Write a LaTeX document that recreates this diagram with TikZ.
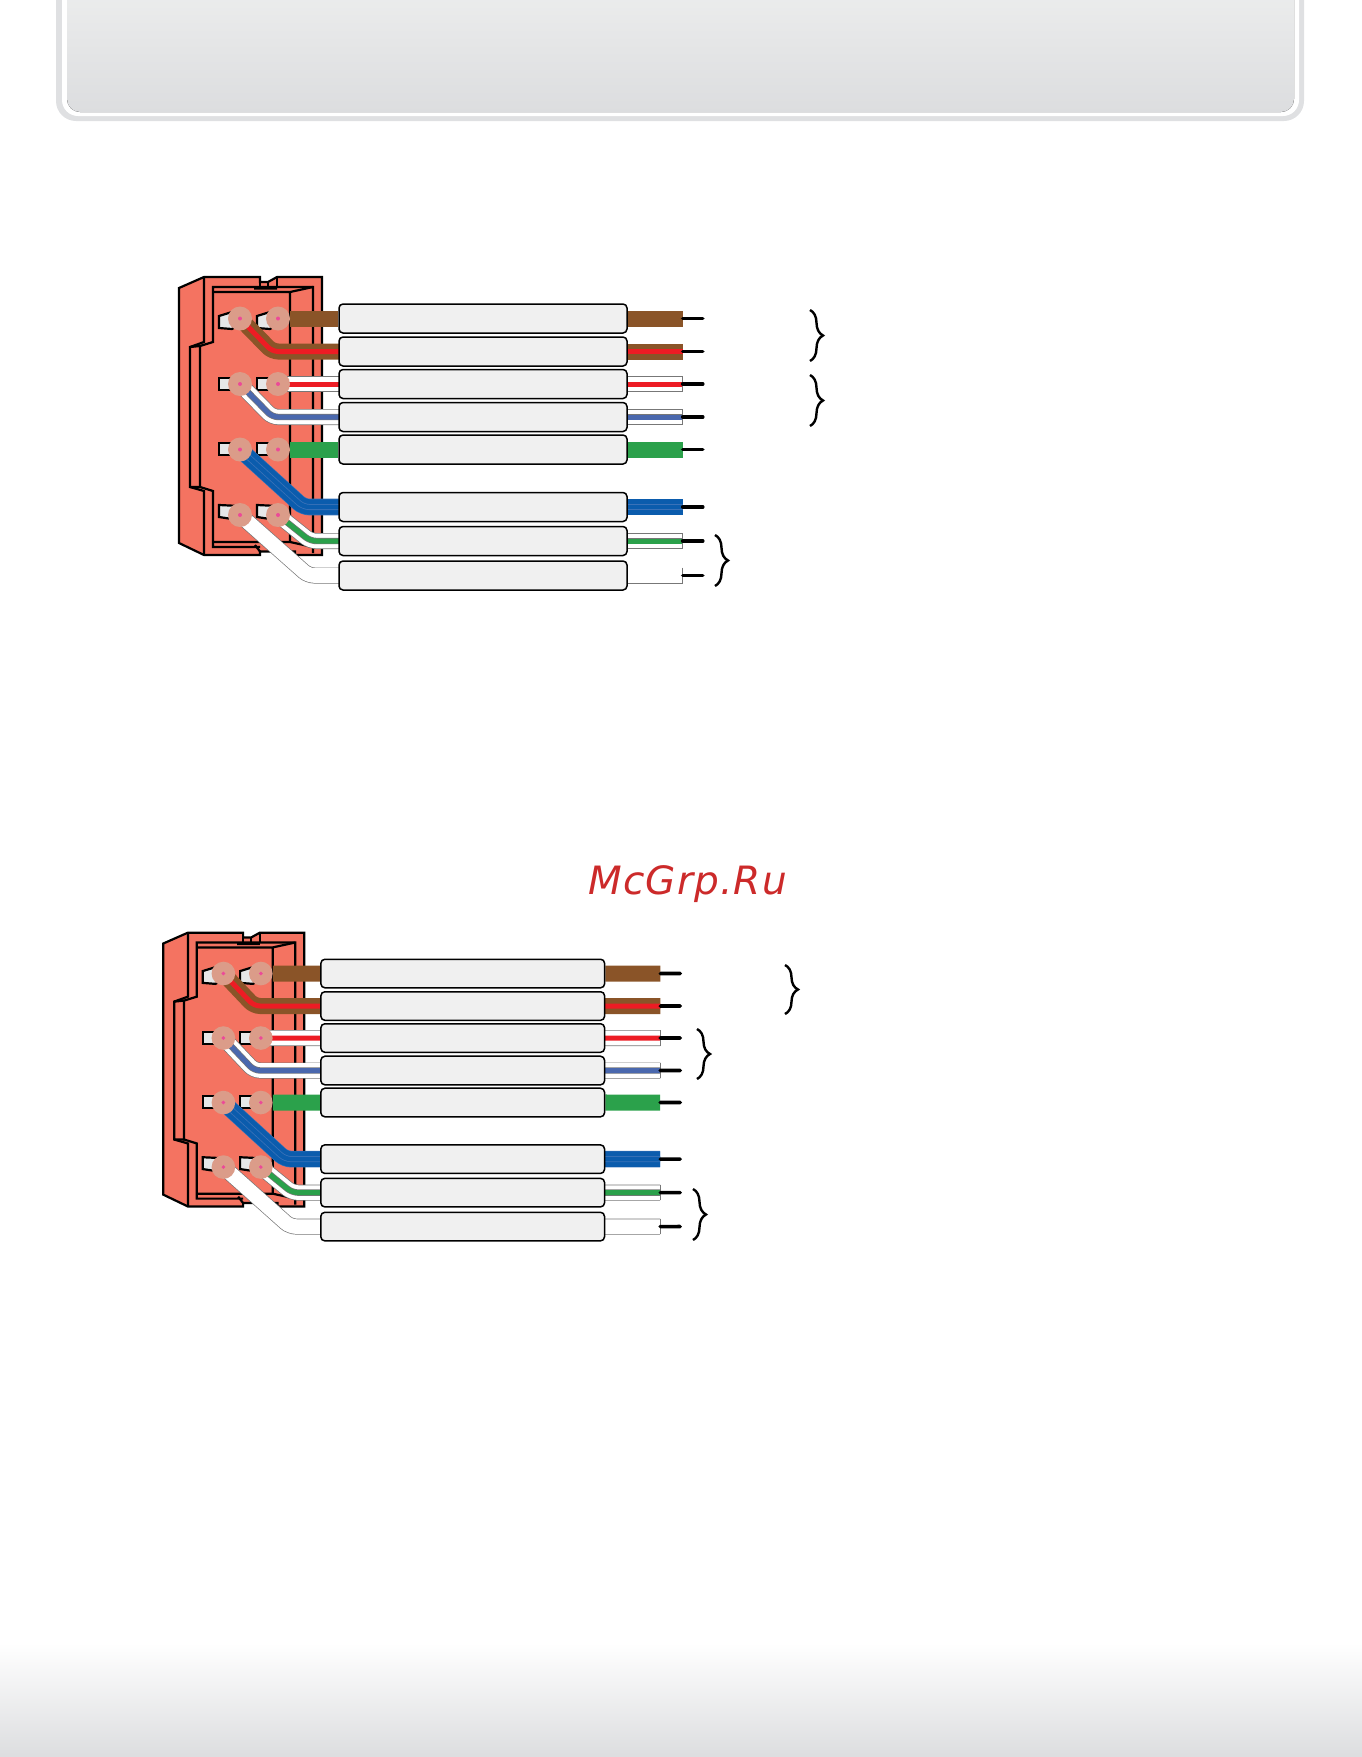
\documentclass[tikz,border=0pt]{standalone}
\usepackage{fontspec}
\usepackage{tikz}
\usetikzlibrary{positioning,decorations.pathreplacing}
\newfontfamily\markfont[LetterSpace=3]{DejaVu Sans}
\pgfdeclarelayer{shell}
\pgfdeclarelayer{wires}
\pgfsetlayers{shell,wires,main}
\definecolor{housing}{HTML}{F47361}
\definecolor{padgray}{HTML}{E6E7E8}
\definecolor{soldercol}{HTML}{DB9C89}
\definecolor{pinpink}{HTML}{EC4A98}
\definecolor{boxgray}{HTML}{F0F0F0}
\definecolor{wirebrown}{HTML}{8A5428}
\definecolor{wirered}{HTML}{ED1C24}
\definecolor{wireslate}{HTML}{4A68AE}
\definecolor{wiregreen}{HTML}{2BA14B}
\definecolor{wireblue}{HTML}{0B5CAD}
\definecolor{wireline}{HTML}{3A72B8}
\definecolor{wireedge}{HTML}{777777}
\definecolor{markred}{HTML}{CC2A2A}
\definecolor{panelhi}{HTML}{EDEEEE}
\definecolor{panello}{HTML}{DCDDDF}
\tikzset{
  solder/.style={circle,fill=soldercol,minimum size=24pt,inner sep=0pt,transform shape},
  sleeve/.style={rectangle,rounded corners=4pt,draw=black,line width=1.5pt,fill=boxgray,
    minimum width=288pt,minimum height=29pt,inner sep=0pt,transform shape},
  stub/.style={line width=3.6pt,line cap=round},
  outline/.style={line width=2.2pt,line join=miter},
  pad/.style={draw=black,fill=padgray,line width=2.2pt},
  wire/.style={line width=16pt,rounded corners=6pt},
  brownwire/.style={wire,draw=wirebrown},
  greenwire/.style={wire,draw=wiregreen},
  whitewire/.style={rounded corners=6pt,draw=white,line width=14.6pt,
    preaction={draw=wireedge,line width=16pt}},
  brownred/.style={rounded corners=6pt,draw=wirered,line width=5pt,
    preaction={draw=wirebrown,line width=16pt}},
  whitered/.style={rounded corners=6pt,draw=wirered,line width=5pt,
    preaction={draw=wireedge,line width=16pt},
    preaction={draw=white,line width=14.6pt}},
  whiteslate/.style={rounded corners=6pt,draw=wireslate,line width=5pt,
    preaction={draw=wireedge,line width=16pt},
    preaction={draw=white,line width=14.6pt},
    preaction={draw=wireedge,line width=6.4pt}},
  whitegreen/.style={rounded corners=6pt,draw=wiregreen,line width=5pt,
    preaction={draw=wireedge,line width=16pt},
    preaction={draw=white,line width=14.6pt},
    preaction={draw=wireedge,line width=6.4pt}},
  bluewire/.style={rounded corners=6pt,draw=wireblue,line width=4.4pt,
    preaction={draw=wireline,line width=16.6pt},
    preaction={draw=wireblue,line width=15.4pt},
    preaction={draw=wireline,line width=6pt}},
  bracket/.style={decorate,decoration={brace,amplitude=13pt},line width=2.4pt},
  harness/.pic={
    \begin{pgfonlayer}{shell}
    \draw[outline,fill=housing] (179,288) -- (204,277) -- (260,277) -- (260,282) -- (268,282)
      -- (277,277) -- (322,277) -- (322,555) -- (295,555) -- (295,551.5) -- (260,551.5)
      -- (260,555) -- (204,555) -- (179,543) -- cycle;
    \draw[outline] (204,277) -- (204,342) -- (190,347) -- (190,487) -- (204,491) -- (204,555);
    \draw[outline] (313,553) -- (313,287) -- (213,287) -- (213,342) -- (200,346) -- (200,487)
      -- (213,491) -- (213,547) -- (260,547);
    \draw[outline] (190,347) -- (200,346) (190,487) -- (200,487);
    \draw[outline] (213,292) -- (290,292) -- (313,287) (290,292) -- (290,542);
    \draw[outline] (213,542) -- (290,542) -- (313,547);
    \draw[outline] (260,282) -- (260,288) (268,282) -- (268,288) (277,277) -- (277,288);
    \draw[outline] (254,288.5) -- (277,288.5) (255,545) -- (260,551.5);
    \draw[pad] (219,316) -- (232,312) -- (240,312) -- (240,324) -- (232,329) -- (219,328) -- cycle;
    \draw[pad] (257,316) -- (270,312) -- (278,312) -- (278,324) -- (270,329) -- (257,328) -- cycle;
    \draw[pad] (219,378) rectangle (240,390);
    \draw[pad] (257,378) rectangle (278,390);
    \draw[pad] (219,443) rectangle (240,455);
    \draw[pad] (257,443) rectangle (278,455);
    \draw[pad] (219,505) -- (240,506) -- (240,521) -- (232,519) -- (219,517) -- cycle;
    \draw[pad] (257,505) -- (278,506) -- (278,521) -- (270,519) -- (257,517) -- cycle;
    \end{pgfonlayer}
    % terminals
    \node[solder] (a1) at (240,318.5) {};
    \node[solder] (b1) [right=38pt of a1] {};
    \node[solder] (a2) at (240,384) {};
    \node[solder] (b2) [right=38pt of a2] {};
    \node[solder] (a3) at (240,449.5) {};
    \node[solder] (b3) [right=38pt of a3] {};
    \node[solder] (a4) at (240,515) {};
    \node[solder] (b4) [right=38pt of a4] {};
    \foreach \i in {a1,b1,a2,b2,a3,b3,a4,b4} {
      \fill[pinpink] (\i) circle (2pt);
    }
    % sleeves
    \node[sleeve] (w1) at (483,318.5) {};
    \node[sleeve] (w2) [below=33pt of w1] {};
    \node[sleeve] (w3) [below=32.5pt of w2] {};
    \node[sleeve] (w4) [below=33pt of w3] {};
    \node[sleeve] (w5) [below=32.5pt of w4] {};
    \node[sleeve] (w6) [below=57.5pt of w5] {};
    \node[sleeve] (w7) [below=34pt of w6] {};
    \node[sleeve] (w8) [below=34.5pt of w7] {};
    \coordinate[left=66pt of w2.west] (k2);
    \coordinate[left=66pt of w4.west] (k4);
    \coordinate[left=35pt of w6.west] (k6);
    \coordinate[left=28pt of w7.west] (k7);
    \coordinate[left=30pt of w8.west] (k8);
    \foreach \i in {1,...,8} {
      \coordinate[right=55pt of w\i.east] (e\i);
      \coordinate[right=20pt of e\i] (s\i);
      \draw[stub] (e\i) -- (s\i);
    }
    % wires
    \begin{pgfonlayer}{wires}
    \draw[brownwire] (b1) -- (w1) (w1) -- (e1);
    \draw[brownred] (a1.center) -- (k2) -- (w2.center);
    \draw[brownred] (w2.center) -- (e2);
    \draw[whitered] (b2.center) -- (w3.center);
    \draw[whitered] (w3.center) -- (e3);
    \draw[whiteslate] (a2.center) -- (k4) -- (w4.center);
    \draw[whiteslate] (w4.center) -- (e4);
    \draw[greenwire] (b3) -- (w5) (w5) -- (e5);
    \draw[bluewire] (a3.center) -- (k6) -- (w6.center);
    \draw[bluewire] (w6.center) -- (e6);
    \draw[whitegreen] (b4.center) -- (k7) -- (w7.center);
    \draw[whitegreen] (w7.center) -- (e7);
    \draw[whitewire] (a4.center) -- (k8) -- (w8.center);
    \draw[whitewire] (w8.center) -- (e8);
    \foreach \i in {3,4,7,8} {
      \draw[wireedge,line width=1.2pt] (e\i) ++(0,-8) -- ++(0,16);
    }
    \end{pgfonlayer}
  }
}
\begin{document}
\begin{tikzpicture}[x=1pt,y=-1pt,on grid]
  \useasboundingbox (0,0) rectangle (1361,1757);
  \fill[top color=white,bottom color=panello] (-1,1643) rectangle (1362,1758);
  \fill[panello!90!white,rounded corners=20pt] (56,-40) rectangle (1304,121);
  \fill[white,rounded corners=16pt] (62,-40) rectangle (1299,116);
  \fill[top color=panelhi,bottom color=panello,rounded corners=13pt] (67,-20) rectangle (1294,112);
  \pic (up) {harness};
  \pic[shift={(-13,659.8)},scale=.985] (lo) {harness};
  \draw[bracket] (810,310) -- (810,361);
  \draw[bracket] (810,375) -- (810,426);
  \draw[bracket] (715,535) -- (715,586);
  \draw[bracket] (785,965) -- (785,1014);
  \draw[bracket] (697,1029) -- (697,1079);
  \draw[bracket] (693,1189) -- (693,1240);
  \node[text=markred,font=\markfont\itshape\fontsize{39}{39}\selectfont] (mark) at (687.5,884) {McGrp.Ru};
\end{tikzpicture}
\end{document}
